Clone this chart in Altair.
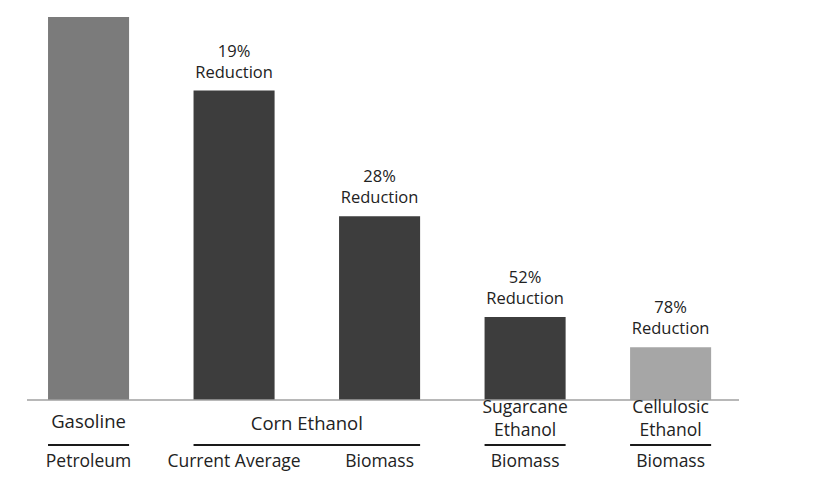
import altair as alt
import pandas as pd

# ---- data ----
bar_ids = ["Gasoline|Petroleum", "Corn Ethanol|Current Average", "Corn Ethanol|Biomass",
           "Sugarcane Ethanol|Biomass", "Cellulosic Ethanol|Biomass"]
fuels = ["Gasoline", "Corn Ethanol", "Corn Ethanol", "Sugarcane Ethanol", "Cellulosic Ethanol"]
sources = ["Petroleum", "Current Average", "Biomass", "Biomass", "Biomass"]
emissions = [100, 80.8, 48.0, 21.7, 13.8]
reduction_pct = ["", "19%", "28%", "52%", "78%"]
bar_colors = ["#7b7b7b", "#3d3d3d", "#3d3d3d", "#3d3d3d", "#a6a6a6"]

group_line1 = ["Gasoline", "Corn Ethanol", "Sugarcane", "Cellulosic"]
group_line2 = ["", "", "Ethanol", "Ethanol"]
group_first = ["Gasoline|Petroleum", "Corn Ethanol|Current Average",
               "Sugarcane Ethanol|Biomass", "Cellulosic Ethanol|Biomass"]
group_last = ["Gasoline|Petroleum", "Corn Ethanol|Biomass",
              "Sugarcane Ethanol|Biomass", "Cellulosic Ethanol|Biomass"]
group_size = [1, 2, 1, 1]

bars = pd.DataFrame({"id": bar_ids, "fuel": fuels, "source": sources,
                     "value": emissions, "pct": reduction_pct, "color": bar_colors})
groups = pd.DataFrame({"line1": group_line1, "line2": group_line2, "first": group_first,
                       "last": group_last, "n": group_size})

# ---- layout ----
W, H = 712, 383
P_IN, P_OUT = 0.443, 0.168
STEP = W / (len(bar_ids) - P_IN + 2 * P_OUT)
FONT = "Open Sans"
FS_TOP = 16.5
FS_GROUP = 18.5
FS_GROUP2 = 17.5
FS_SRC = 17.5
TXT = "#222222"

xscale = alt.Scale(domain=bar_ids, paddingInner=P_IN, paddingOuter=P_OUT, align=0.43)
yscale = alt.Scale(domain=[0, 100], nice=False)

base = alt.Chart(bars)

bar_layer = base.mark_bar().encode(
    x=alt.X("id:N", scale=xscale, axis=None, sort=bar_ids),
    y=alt.Y("value:Q", scale=yscale, axis=None),
    color=alt.Color("color:N", scale=None),
)

baseline = base.mark_rule(color="#a0a0a0", strokeWidth=1.3).encode(
    x=alt.value(0), x2=alt.value(W), y=alt.value(H)
).transform_filter(alt.datum.id == bar_ids[0])

pct_text = base.mark_text(font=FONT, fontSize=FS_TOP, color=TXT, baseline="middle", dy=-39).encode(
    x=alt.X("id:N", scale=xscale, sort=bar_ids),
    y=alt.Y("value:Q", scale=yscale),
    text="pct:N",
).transform_filter(alt.datum.pct != "")

red_text = base.mark_text(font=FONT, fontSize=FS_TOP, color=TXT, baseline="middle", dy=-18).encode(
    x=alt.X("id:N", scale=xscale, sort=bar_ids),
    y=alt.Y("value:Q", scale=yscale),
    text=alt.value("Reduction"),
).transform_filter(alt.datum.pct != "")

source_text = base.mark_text(font=FONT, fontSize=FS_SRC, color=TXT, baseline="middle").encode(
    x=alt.X("id:N", scale=xscale, sort=bar_ids),
    y=alt.value(445),
    text="source:N",
)

gbase = alt.Chart(groups)

group_rules = gbase.mark_rule(color="#1a1a1a", strokeWidth=2).encode(
    x=alt.X("first:N", scale=xscale, bandPosition=0),
    x2=alt.X2("last:N", bandPosition=1),
    y=alt.value(428),
)

# one-line group labels, single bar
group_text_single = gbase.mark_text(font=FONT, fontSize=FS_GROUP, color=TXT, baseline="middle").encode(
    x=alt.X("first:N", scale=xscale),
    y=alt.value(405),
    text="line1:N",
).transform_filter("datum.n == 1 && datum.line2 == ''")

# one-line group label spanning two bars
group_text_double = gbase.mark_text(font=FONT, fontSize=FS_GROUP, color=TXT, baseline="middle",
                                    dx=STEP / 2).encode(
    x=alt.X("first:N", scale=xscale),
    y=alt.value(407),
    text="line1:N",
).transform_filter("datum.n == 2")

# two-line group labels
group_text_top = gbase.mark_text(font=FONT, fontSize=FS_GROUP2, color=TXT, baseline="middle").encode(
    x=alt.X("first:N", scale=xscale),
    y=alt.value(390.5),
    text="line1:N",
).transform_filter("datum.line2 != ''")

group_text_bottom = gbase.mark_text(font=FONT, fontSize=FS_GROUP2, color=TXT, baseline="middle").encode(
    x=alt.X("first:N", scale=xscale),
    y=alt.value(413.5),
    text="line2:N",
).transform_filter("datum.line2 != ''")

chart = alt.layer(
    bar_layer, baseline, pct_text, red_text, source_text, group_rules,
    group_text_single, group_text_double, group_text_top, group_text_bottom,
).properties(
    width=W, height=H,
    autosize=alt.AutoSizeParams(type="none"),
    padding={"left": 27, "top": 17, "right": 77, "bottom": 100},
    background="white",
).configure_view(stroke=None)

chart.save("out.html", embed_options={"renderer": "svg", "actions": False})
